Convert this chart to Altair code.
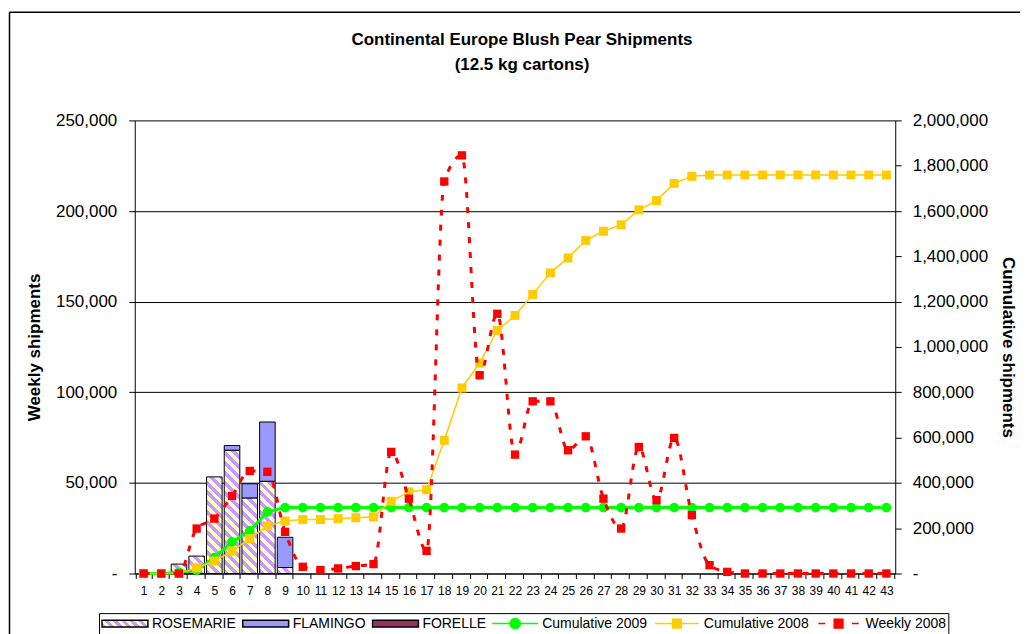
import json
import math
import altair as alt
import pandas as pd

# ---------------- data ----------------
weeks = list(range(1, 44))
rosemarie = [0, 0, 5200, 9600, 53300, 68000, 41700, 50900, 3300] + [0] * 34
flamingo = [0, 0, 0, 0, 0, 2600, 7800, 32700, 16700] + [0] * 34
forelle = [0] * 43
cumulative_2009 = [0, 0, 5000, 15000, 70000, 139000, 188000, 272000, 291000] + [291000] * 34
cumulative_2008 = [0, 0, 0, 25000, 55000, 99000, 154000, 210000, 232000, 238000,
                   238000, 242000, 246000, 250000, 319000, 360000, 370000, 588000,
                   819000, 929000, 1073000, 1139000, 1232000, 1327000, 1393000,
                   1470000, 1511000, 1539000, 1605000, 1646000, 1722000, 1753000,
                   1759000] + [1759000] * 10
weekly_2008 = [0, 0, 0, 24800, 30300, 42800, 56600, 56100, 23000, 3700, 1900, 2800,
               4100, 5200, 67100, 41300, 12500, 216300, 230700, 109400, 143300,
               65600, 95000, 95000, 68000, 75700, 41300, 24800, 69800, 40500, 74800,
               32200, 4600, 900] + [0] * 9

series_names = ["ROSEMARIE", "FLAMINGO", "FORELLE", "Cumulative 2009",
                "Cumulative 2008", "Weekly 2008"]
series_colors = ["#FFFFCC", "#9999FF", "#993366", "#00FF00", "#FFCC00", "#FF0000"]
left_ticks = [0, 50000, 100000, 150000, 200000, 250000]
right_ticks = list(range(0, 2000001, 200000))

# ---------------- style ----------------
FONT = "Liberation Sans"
W, H = 762, 454
PAD_IN = 0.12
HATCH_A = "#CC99FF"
HATCH_B = "#FFFFCC"

df = pd.DataFrame({
    "week": weeks,
    "rose": rosemarie,
    "flam": flamingo,
    "forelle": forelle,
    "cum09": cumulative_2009,
    "cum08": cumulative_2008,
    "weekly": weekly_2008,
})
df["flam_top"] = df["rose"] + df["flam"]
df["series"] = "FLAMINGO"


def hatch(w, h, period=7.0):
    """diagonal '\\' stripes as a hard-stop linear gradient in bbox units"""
    k = (w + h) / (w * w + h * h)
    n = (w + h) / (period * math.sqrt(2))
    stops = []
    i = 0
    while i < n:
        a = min(i / n, 1.0)
        b = min((i + 0.5) / n, 1.0)
        c = min((i + 1) / n, 1.0)
        stops += [(a, HATCH_A), (b, HATCH_A), (b, HATCH_B), (c, HATCH_B)]
        i += 1
    return {
        "gradient": "linear",
        "x1": 0, "y1": 1, "x2": round(k * w, 5), "y2": round(1 - k * h, 5),
        "stops": [{"offset": round(o, 5), "color": col} for o, col in stops],
    }


x_scale = alt.Scale(paddingInner=PAD_IN, paddingOuter=PAD_IN / 2)
x_axis = alt.Axis(title=None, labelAngle=0, tickBand="extent", labelFontSize=12,
                  labelFont=FONT, labelColor="black", tickSize=5, tickColor="black",
                  domainColor="black", labelPadding=7, grid=False)
x_enc = alt.X("week:O", scale=x_scale, axis=x_axis)

left_scale = alt.Scale(domain=[0, 250000], nice=False, zero=True)
left_axis = alt.Axis(
    title="Weekly shipments", values=left_ticks,
    labelExpr="datum.value === 0 ? '-\u00a0\u00a0\u00a0\u00a0' : format(datum.value, ',')",
    grid=True, gridColor="black", gridWidth=1, gridOpacity=1,
    tickSize=6, tickColor="black", domainColor="black",
    labelPadding=12, labelFontSize=17, labelFont=FONT, labelColor="black",
    titleFont=FONT, titleFontSize=17, titleFontWeight="bold", titleColor="black",
    titlePadding=12)

right_scale = alt.Scale(domain=[0, 2000000], nice=False, zero=True)
right_axis = alt.Axis(
    orient="right", title="Cumulative shipments", values=right_ticks,
    labelExpr="datum.value === 0 ? '-' : format(datum.value, ',')",
    grid=False, tickSize=6, tickColor="black", domainColor="black",
    labelPadding=11, labelFontSize=17, labelFont=FONT, labelColor="black",
    titleFont=FONT, titleFontSize=17, titleFontWeight="bold", titleColor="black",
    titlePadding=11)

# ---------------- legend (one merged legend from fill/stroke/shape/strokeWidth) ----------------
rect_path = "M-1,-0.15H1V0.15H-1Z"
green_path = "M-1,0H1M-0.22,0A0.22,0.22 0 1,0 0.22,0A0.22,0.22 0 1,0 -0.22,0Z"
gold_path = "M-0.95,0H0.95M-0.19,-0.19H0.19V0.19H-0.19Z"
red_path = "M-0.88,0H-0.58M0.58,0H0.88M-0.19,-0.19H0.19V0.19H-0.19Z"
shape_list = [rect_path, rect_path, rect_path, green_path, gold_path, red_path]
stroke_list = ["#000000", "#000000", "#000000", "#00FF00", "#FFCC00", "#FF0000"]
sw_list = [1.5, 1.5, 1.5, 3, 1.5, 3]
fill_range = [{"expr": json.dumps(hatch(46, 7, 6.0))}] + series_colors[1:]

legend = alt.Legend(
    orient="none", legendX=-35.8, legendY=493.7, direction="horizontal", columns=6,
    title=None, strokeColor="black", fillColor="white", padding=2,
    labelFont=FONT, labelFontSize=14, labelColor="black", labelOffset=3,
    columnPadding=5, symbolSize=2116, clipHeight=17)

legend_layer = alt.Chart(df).transform_filter("false").mark_point(
    filled=True, opacity=1
).encode(
    x=x_enc,
    y=alt.Y("weekly:Q", scale=left_scale, axis=left_axis),
    fill=alt.Fill("series:N", scale=alt.Scale(domain=series_names, range=fill_range),
                  legend=legend),
    stroke=alt.Stroke("series:N", scale=alt.Scale(domain=series_names, range=stroke_list),
                      legend=legend),
    shape=alt.Shape("series:N", scale=alt.Scale(domain=series_names, range=shape_list),
                    legend=legend),
    strokeWidth=alt.StrokeWidth("series:N",
                                scale=alt.Scale(domain=series_names, range=sw_list),
                                legend=legend),
)

# ---------------- frame (chart area border) ----------------
frame_df = pd.DataFrame({"k": [0]})
top_rule = alt.Chart(frame_df).mark_rule(color="black", strokeWidth=1.5).encode(
    x=alt.value(-125.5), x2=alt.value(887), y=alt.value(-108.3))
left_rule = alt.Chart(frame_df).mark_rule(color="black", strokeWidth=1.5).encode(
    x=alt.value(-125.5), y=alt.value(-108.3), y2=alt.value(514.7))

# ---------------- bars ----------------
step = W / 43.0
bar_w = step * (1 - PAD_IN)
rose_layers = []
for wk, val in zip(weeks, rosemarie):
    if val > 0:
        h = val / 250000.0 * H
        rose_layers.append(
            alt.Chart(df[df["week"] == wk]).mark_bar(
                fill=hatch(bar_w, h), stroke="black", strokeWidth=1
            ).encode(
                x=x_enc,
                y=alt.Y("rose:Q", scale=left_scale, axis=left_axis, stack=None),
            )
        )

flam_layer = alt.Chart(df[df["flam"] > 0]).mark_bar(
    fill="#9999FF", stroke="black", strokeWidth=1
).encode(
    x=x_enc,
    y=alt.Y("flam_top:Q", scale=left_scale, axis=left_axis, stack=None),
    y2="rose:Q",
)

left_group = alt.layer(top_rule, left_rule, *rose_layers, flam_layer, legend_layer)

# ---------------- cumulative lines (right axis) ----------------
cum09_line = alt.Chart(df).mark_line(color="#00FF00", strokeWidth=3).encode(
    x=x_enc, y=alt.Y("cum09:Q", scale=right_scale, axis=right_axis))
cum09_pts = alt.Chart(df).mark_point(shape="circle", filled=True, size=95,
                                     color="#00FF00", opacity=1).encode(
    x=x_enc, y=alt.Y("cum09:Q", scale=right_scale, axis=right_axis))
cum08_line = alt.Chart(df).mark_line(color="#FFCC00", strokeWidth=1.5).encode(
    x=x_enc, y=alt.Y("cum08:Q", scale=right_scale, axis=right_axis))
cum08_pts = alt.Chart(df).mark_point(shape="square", filled=True, size=81,
                                     color="#FFCC00", opacity=1).encode(
    x=x_enc, y=alt.Y("cum08:Q", scale=right_scale, axis=right_axis))
right_group = alt.layer(cum09_line, cum09_pts, cum08_line, cum08_pts)

# ---------------- weekly 2008 (left scale, drawn on top) ----------------
weekly_scale = alt.Scale(domain=[0, 250000], nice=False, zero=True)
weekly_line = alt.Chart(df).mark_line(color="#FF0000", strokeWidth=3, strokeDash=[6, 9],
                                      interpolate="monotone").encode(
    x=x_enc, y=alt.Y("weekly:Q", scale=weekly_scale, axis=None))
weekly_pts = alt.Chart(df).mark_point(shape="square", filled=True, size=70,
                                      color="#FF0000", opacity=1).encode(
    x=x_enc, y=alt.Y("weekly:Q", scale=weekly_scale, axis=None))
weekly_group = alt.layer(weekly_line, weekly_pts)

chart = alt.layer(left_group, right_group, weekly_group).resolve_scale(
    y="independent"
).properties(
    width=W, height=H,
    padding={"left": 0, "top": 2, "right": 0, "bottom": 0},
    background="white",
    title=alt.TitleParams(
        text=["Continental Europe Blush Pear Shipments", "(12.5 kg cartons)"],
        font=FONT, fontSize=17, fontWeight="bold", color="black",
        anchor="middle", lineHeight=25, offset=-63, dx=7),
).configure_view(stroke=None)

chart.save("out.html", embed_options={"renderer": "svg", "actions": False})
